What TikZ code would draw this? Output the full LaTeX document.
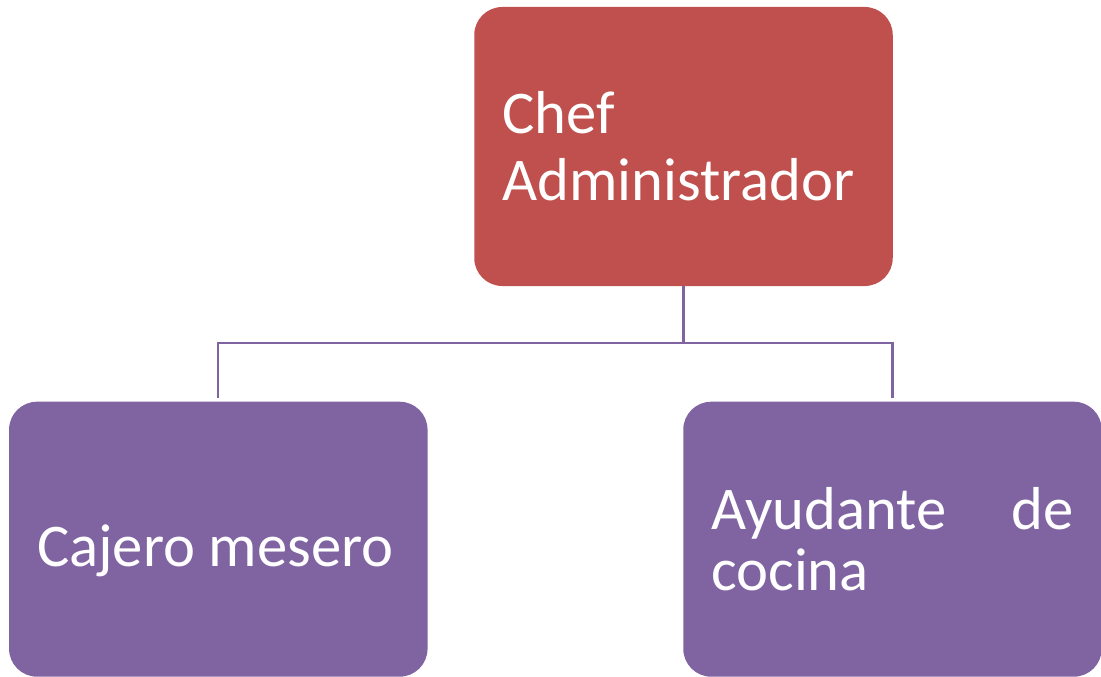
\documentclass[tikz,border=0pt]{standalone}
\usepackage{fontspec}
\setmainfont{Carlito}
\usepackage{tikz}
\usetikzlibrary{positioning}
\definecolor{chefred}{RGB}{192,80,77}
\definecolor{staffpurple}{RGB}{128,100,162}
\tikzset{
  chefbox/.style={rectangle, fill=chefred, text=white,
    text width=7.25cm, inner xsep=0.56cm, align=flush left, minimum height=5.58cm,
    font=\fontsize{34.5}{38}\selectfont, rounded corners=0.56cm},
  staffbox/.style={rectangle, fill=staffpurple, text=white,
    text width=7.25cm, inner xsep=0.56cm, align=flush left, minimum height=5.5cm,
    font=\fontsize{34.5}{35}\selectfont, rounded corners=0.56cm},
  tree/.style={line width=1.2pt, color=staffpurple}
}

\begin{document}
\begin{tikzpicture}
  \useasboundingbox (0,0) rectangle (22.02,-13.54);

  % Top
  \node[chefbox] (chef) at (13.67,-2.93) {Chef\\Administrador};

  % Staff
  \node[staffbox, below left=2.3cm and 0.92cm of chef, text height=1.3cm] (cajero) {Cajero mesero};
  \node[staffbox, right=5.1cm of cajero] (ayudante) {Ayudante\hfill de\\cocina};

  % Lines
  \coordinate[below=1.14cm of chef.south] (bus);
  \draw[tree] (chef) -- (bus);
  \draw[tree, shorten >=0.06cm] (bus) -| (cajero);
  \draw[tree, shorten >=0.06cm] (bus) -| (ayudante);
\end{tikzpicture}
\end{document}
